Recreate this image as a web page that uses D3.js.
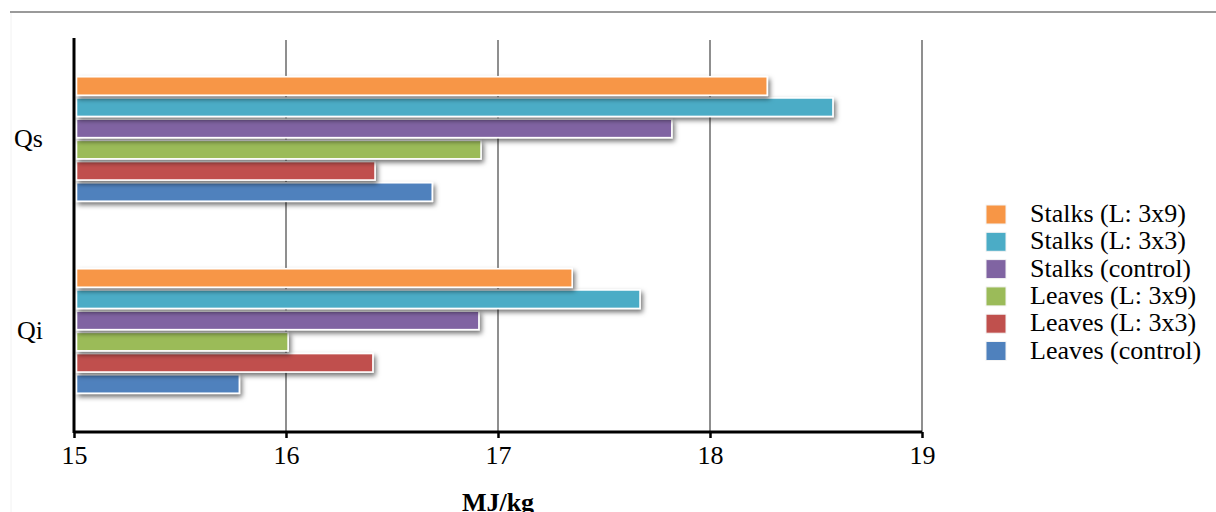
<!DOCTYPE html>
<html>
<head>
<meta charset="utf-8">
<script src="https://cdn.jsdelivr.net/npm/d3@7"></script>
<style>
  html, body { margin: 0; padding: 0; background: #fff; }
  svg { display: block; }
  text { font-family: "Liberation Serif", "Times New Roman", serif; fill: #000; }
</style>
</head>
<body>
<svg id="chart" width="1216" height="512"></svg>
<script>
const categories = ["Qs", "Qi"];
const seriesNames = ["Stalks (L: 3x9)", "Stalks (L: 3x3)", "Stalks (control)", "Leaves (L: 3x9)", "Leaves (L: 3x3)", "Leaves (control)"];
const seriesColors = ["#F79646", "#4BACC6", "#8064A2", "#9BBB59", "#C0504D", "#4F81BD"];
// values per series: [Qs, Qi]
const stalks3x9 = [18.27, 17.35];
const stalks3x3 = [18.58, 17.67];
const stalksControl = [17.82, 16.91];
const leaves3x9 = [16.92, 16.01];
const leaves3x3 = [16.42, 16.41];
const leavesControl = [16.69, 15.78];
const seriesValues = [stalks3x9, stalks3x3, stalksControl, leaves3x9, leaves3x3, leavesControl];
const xTicks = [15, 16, 17, 18, 19];
const xTitle = "MJ/kg";

const svg = d3.select("#chart");

const x = d3.scaleLinear().domain([15, 19]).range([74, 922]);
const y0 = d3.scaleBand().domain(categories).range([43, 427]);
const y1 = d3.scaleBand().domain(seriesNames).range([-62.25, 62.25]).paddingInner(0.127).paddingOuter(0);

// frame
svg.append("line").attr("x1", 10).attr("x2", 1216).attr("y1", 12).attr("y2", 12)
  .attr("stroke", "#9a9a9a").attr("stroke-width", 2);
svg.append("line").attr("x1", 11).attr("x2", 11).attr("y1", 13).attr("y2", 512)
  .attr("stroke", "#f2f2f2").attr("stroke-width", 1);

const defs = svg.append("defs");
const f = defs.append("filter").attr("id", "shadow").attr("x", "-10%").attr("y", "-60%").attr("width", "130%").attr("height", "260%");
f.append("feDropShadow").attr("dx", 2).attr("dy", 3).attr("stdDeviation", 2.5)
  .attr("flood-color", "#000").attr("flood-opacity", 0.55);

// gridlines
svg.append("g").selectAll("line").data(xTicks.slice(1)).join("line")
  .attr("x1", d => x(d)).attr("x2", d => x(d))
  .attr("y1", 40).attr("y2", 432)
  .attr("stroke", "#8f8f8f").attr("stroke-width", 2);

// bars: build flat data, draw bottom series first so upper shadows overlay
const barData = [];
seriesNames.forEach((s, i) => {
  categories.forEach((c, j) => {
    barData.push({ series: s, cat: c, value: seriesValues[i][j], color: seriesColors[i], idx: i });
  });
});
barData.sort((a, b) => b.idx - a.idx);

svg.append("g").selectAll("rect").data(barData).join("rect")
  .attr("x", x(15) + 2.5)
  .attr("y", d => y0(d.cat) + y0.bandwidth() / 2 + y1(d.series))
  .attr("width", d => x(d.value) - x(15) - 2.5)
  .attr("height", y1.bandwidth())
  .attr("fill", d => d.color)
  .attr("stroke", "#fff")
  .attr("stroke-width", 1.6)
  .attr("filter", "url(#shadow)");

// x axis
const xAxis = d3.axisBottom(x).tickValues(xTicks).tickSize(6).tickPadding(8).tickFormat(d3.format("d"));
const gx = svg.append("g").attr("transform", "translate(0,432)").call(xAxis);
gx.select(".domain").attr("stroke", "#000").attr("stroke-width", 3).attr("d", `M${x(15)},0H${x(19)}`);
gx.selectAll(".tick line").attr("stroke", "#000").attr("stroke-width", 2.5);
gx.selectAll(".tick text").attr("font-size", 26).attr("font-family", '"Liberation Serif", serif').attr("fill", "#000").attr("dy", "0.71em").attr("y", 14);

// y axis line
svg.append("line").attr("x1", x(15)).attr("x2", x(15)).attr("y1", 38).attr("y2", 433)
  .attr("stroke", "#000").attr("stroke-width", 3);

// category labels
svg.append("g").selectAll("text").data(categories).join("text")
  .attr("x", 43)
  .attr("y", d => y0(d) + y0.bandwidth() / 2 + 7.5)
  .attr("text-anchor", "end")
  .attr("font-size", 26)
  .text(d => d);

// axis title
svg.append("text").attr("x", (x(15) + x(19)) / 2).attr("y", 511)
  .attr("text-anchor", "middle").attr("font-size", 26).attr("font-weight", "bold")
  .text(xTitle);

// legend
const legend = svg.append("g").attr("transform", "translate(986,222)");
const items = legend.selectAll("g").data(seriesNames).join("g")
  .attr("transform", (d, i) => `translate(0,${i * 27.3})`);
items.append("rect").attr("x", 0).attr("y", -17).attr("width", 20).attr("height", 19)
  .attr("fill", (d, i) => seriesColors[i]).attr("stroke", "#f4f4f4").attr("stroke-width", 1);
items.append("text").attr("x", 44).attr("y", 0).attr("font-size", 26).text(d => d);
</script>
</body>
</html>
